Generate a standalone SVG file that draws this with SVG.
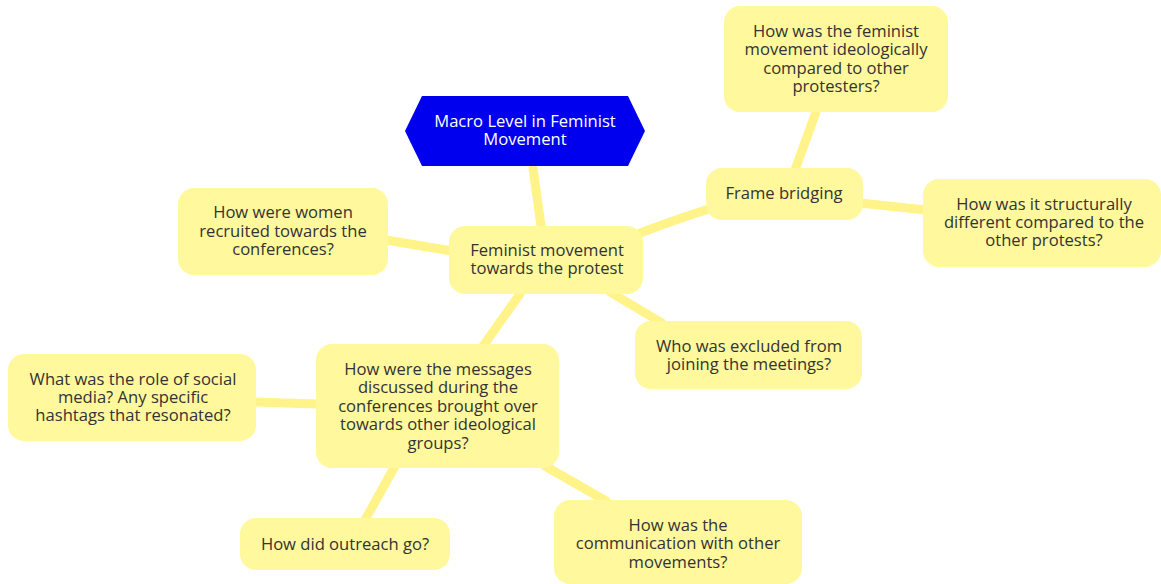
<svg xmlns="http://www.w3.org/2000/svg" width="1161" height="584" viewBox="0 0 1161 584">
<style>
.n{fill:#fff89c;}
.t{font-family:"Open Sans","Liberation Sans",sans-serif;font-size:16.6px;fill:#333333;text-anchor:middle;}
.w{font-family:"Open Sans","Liberation Sans",sans-serif;font-size:16.6px;fill:#ffffff;text-anchor:middle;}
.c{stroke:#fff38a;stroke-width:9;stroke-linecap:round;fill:none;}
</style>
<rect width="1161" height="584" fill="#ffffff"/>
<g id="connectors">
<path class="c" d="M533,168 L541,226"/>
<path class="c" d="M640,233 Q680,218 712,208"/>
<path class="c" d="M795,170 L816,112"/>
<path class="c" d="M860,203 L926,210"/>
<path class="c" d="M386,240 L452,251"/>
<path class="c" d="M610,292 L662,323"/>
<path class="c" d="M520,294 L483,346"/>
<path class="c" d="M254,402 L318,404"/>
<path class="c" d="M395,466 L365,520"/>
<path class="c" d="M545,466 L606,501"/>
</g>
<g id="root">
<polygon points="405,131 422,96 628,96 645,131 628,166 422,166" fill="#0000ee"/>
<text class="w" x="525" y="127">Macro Level in Feminist</text>
<text class="w" x="525" y="145">Movement</text>
</g>
<g id="central">
<rect class="n" x="449" y="226" width="194" height="68" rx="16"/>
<text class="t" x="547" y="256">Feminist movement</text>
<text class="t" x="547" y="274">towards the protest</text>
</g>
<g id="frame">
<rect class="n" x="706" y="168" width="157" height="52" rx="16"/>
<text class="t" x="784" y="199">Frame bridging</text>
</g>
<g id="ideology">
<rect class="n" x="724" y="6" width="224" height="106" rx="16"/>
<text class="t" x="836" y="37">How was the feminist</text>
<text class="t" x="836" y="55">movement ideologically</text>
<text class="t" x="836" y="74">compared to other</text>
<text class="t" x="836" y="92">protesters?</text>
</g>
<g id="structural">
<rect class="n" x="923" y="179" width="238" height="88" rx="16"/>
<text class="t" x="1044" y="210">How was it structurally</text>
<text class="t" x="1044" y="228">different compared to the</text>
<text class="t" x="1044" y="246">other protests?</text>
</g>
<g id="recruited">
<rect class="n" x="178" y="188" width="210" height="87" rx="16"/>
<text class="t" x="283" y="218">How were women</text>
<text class="t" x="283" y="237">recruited towards the</text>
<text class="t" x="283" y="255">conferences?</text>
</g>
<g id="excluded">
<rect class="n" x="635" y="321" width="227" height="68" rx="16"/>
<text class="t" x="749" y="352">Who was excluded from</text>
<text class="t" x="749" y="370">joining the meetings?</text>
</g>
<g id="messages">
<rect class="n" x="316" y="344" width="243" height="124" rx="16"/>
<text class="t" x="438" y="375">How were the messages</text>
<text class="t" x="438" y="393">discussed during the</text>
<text class="t" x="438" y="412">conferences brought over</text>
<text class="t" x="438" y="430">towards other ideological</text>
<text class="t" x="438" y="449">groups?</text>
</g>
<g id="social">
<rect class="n" x="8" y="354" width="248" height="87" rx="16"/>
<text class="t" x="133" y="385">What was the role of social</text>
<text class="t" x="133" y="403">media? Any specific</text>
<text class="t" x="133" y="421">hashtags that resonated?</text>
</g>
<g id="outreach">
<rect class="n" x="240" y="518" width="210" height="52" rx="16"/>
<text class="t" x="345" y="550">How did outreach go?</text>
</g>
<g id="communication">
<rect class="n" x="554" y="500" width="248" height="84" rx="16"/>
<text class="t" x="678" y="531">How was the</text>
<text class="t" x="678" y="549">communication with other</text>
<text class="t" x="678" y="568">movements?</text>
</g>
</svg>
